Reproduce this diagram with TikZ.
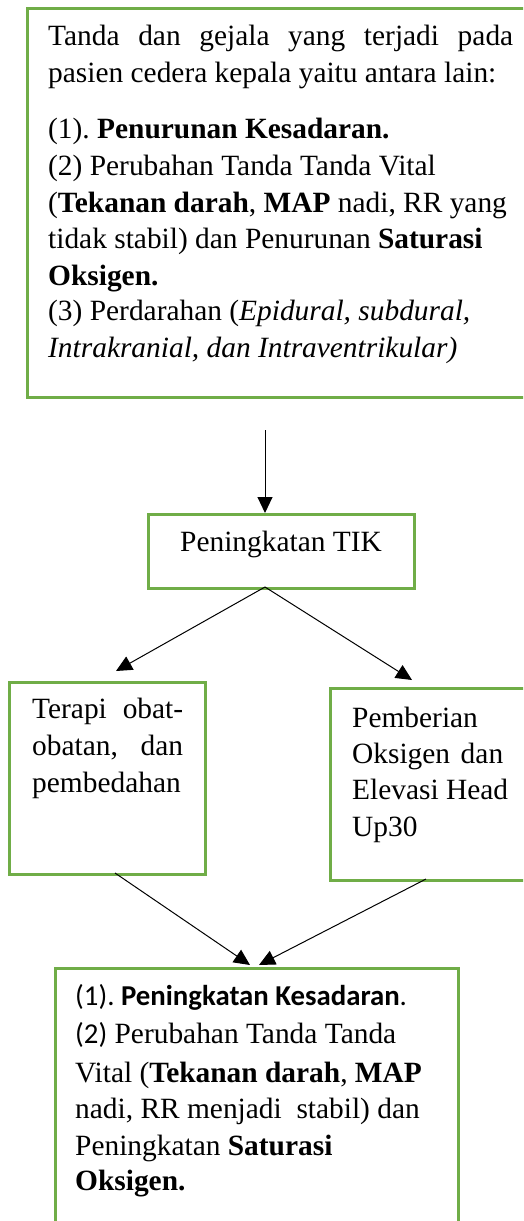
\documentclass[tikz,border=0pt]{standalone}
\usepackage{fontspec}
\setmainfont{Liberation Serif}
\newfontfamily\calibfont{Carlito}
\usetikzlibrary{arrows.meta,calc}
\definecolor{boxgreen}{HTML}{70AD47}
\frenchspacing
\tikzset{
  box/.style={draw=boxgreen, line width=2.6pt, inner sep=0pt, anchor=north west},
  txt/.style={anchor=base west, inner sep=0pt, font=\fontsize{29.4}{37}\selectfont\frenchspacing},
  arr/.style={line width=1pt, -{Triangle[length=16pt,width=15pt]}},
}
\begin{document}
\begin{tikzpicture}[x=1pt,y=-1pt]
\useasboundingbox (0,0) rectangle (523,1221);
\clip (0,0) rectangle (523,1221);
% boxes
\node[box, minimum width=509pt, minimum height=389pt] (top) at (26,7) {};
\node[box, minimum width=266pt, minimum height=74pt] (tik) at (147,513) {};
\node[box, minimum width=196pt, minimum height=192pt] (left) at (8,681) {};
\node[box, minimum width=206pt, minimum height=192pt] (right) at (329,687) {};
\node[box, minimum width=403pt, minimum height=273pt] (bot) at (54,967) {};
% top box text
\node[txt] (t1) at (48,45) {\makebox[465pt][s]{Tanda dan gejala yang terjadi pada}};
\node[txt] (t2) at (48,82) {pasien cedera kepala yaitu antara lain:};
\node[txt] (t3) at (48,138) {(1). \textbf{Penurunan Kesadaran.}};
\node[txt] (t4) at (48,175) {(2) Perubahan Tanda Tanda Vital};
\node[txt] (t5) at (48,212) {(\textbf{Tekanan darah}, \textbf{MAP} nadi, RR yang};
\node[txt] (t6) at (48,248) {tidak stabil) dan Penurunan \textbf{Saturasi}};
\node[txt] (t7) at (48,285) {\textbf{Oksigen.}};
\node[txt] (t8) at (48,320) {(3) Perdarahan (\textit{Epidural, subdural,}};
\node[txt] (t9) at (48,357) {\textit{Intrakranial, dan Intraventrikular)}};
% TIK
\node[txt] (tk) at (180,551) {Peningkatan TIK};
% left box
\node[txt] (l1) at (32,718) {\makebox[151pt][s]{Terapi obat-}};
\node[txt] (l2) at (32,755) {\makebox[151pt][s]{obatan, dan}};
\node[txt] (l3) at (32,792) {pembedahan};
% right box
\node[txt] (r1) at (352,727) {Pemberian};
\node[txt] (r2) at (352,763) {\makebox[151pt][s]{Oksigen dan}};
\node[txt] (r3) at (352,799) {Elevasi Head};
\node[txt] (r4) at (352,836) {Up30};
% bottom box
\node[txt] (b1) at (75,1005) {{\calibfont\fontsize{28.8}{37}\selectfont(1). \textbf{Peningkatan Kesadaran}.}};
\node[txt] (b2) at (75,1043) {{\calibfont\fontsize{28.8}{37}\selectfont(2)} Perubahan Tanda Tanda};
\node[txt] (b3) at (75,1082) {Vital (\textbf{Tekanan darah}, \textbf{MAP}};
\node[txt] (b4) at (75,1118) {nadi, RR menjadi\ \ stabil) dan};
\node[txt] (b5) at (75,1155) {Peningkatan \textbf{Saturasi}};
\node[txt] (b6) at (75,1190) {\textbf{Oksigen.}};
% connectors
\coordinate (a0) at (265,430);
\coordinate (tikout) at (265,587);
\coordinate (tipL) at (116,671);
\coordinate (tipR) at (412,680);
\coordinate (lout) at (115,873);
\coordinate (rout) at (426,879);
\coordinate (tipB1) at (250,965);
\coordinate (tipB2) at (259,965);
\draw[arr] (a0) -- (a0 |- tik.north);
\draw[arr] (tikout) -- (tipL);
\draw[arr] (tikout) -- (tipR);
\draw[arr] (lout) -- (tipB1);
\draw[arr] (rout) -- (tipB2);
\end{tikzpicture}
\end{document}
